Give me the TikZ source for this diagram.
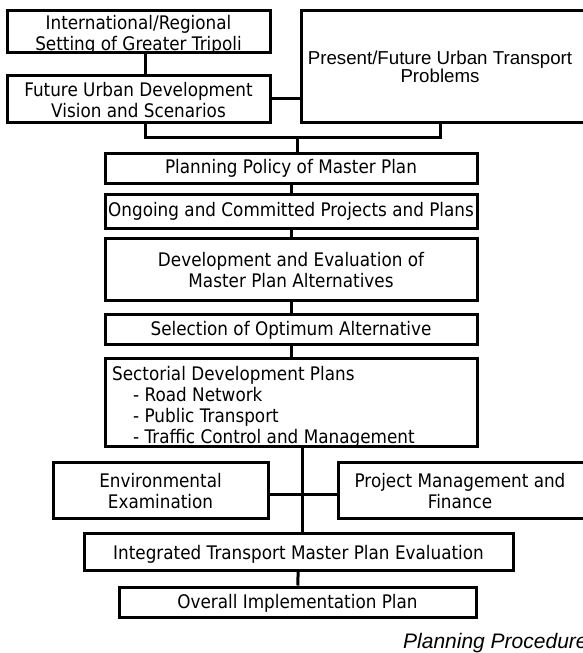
\documentclass[tikz,border=0pt]{standalone}
\usepackage{fontspec}
\usepackage{tikz}
\newfontfamily\tahoma[FakeStretch=0.9]{DejaVu Sans}
\newfontfamily\arial{Liberation Sans}
\tikzset{
  caja/.style={draw, line width=3pt, inner sep=0pt},
  texto/.style={align=center, inner sep=0pt, font=\tahoma\fontsize{18.7}{21}\selectfont},
  linea/.style={line width=3pt}
}

\begin{document}
\begin{tikzpicture}[x=1pt, y=-1pt]
        \useasboundingbox (0,0) rectangle (582,653);

        % Cajas superiores
        \node[caja, minimum width=263pt, minimum height=42pt] (setting) at (138.5,31) {};
        \node[texto] (setting-t) at (138.5,34.5) {International/Regional\\Setting of Greater Tripoli};
        \node[caja, minimum width=263pt, minimum height=47pt] (vision) at (138.5,98.5) {};
        \node[texto] (vision-t) at (138.5,100.5) {Future Urban Development\\Vision and Scenarios};
        \node[caja, minimum width=289pt, minimum height=112pt] (problems) at (445.5,66) {};
        \node[texto, font=\arial\fontsize{18.7}{18}\selectfont] (problems-t) at (440,67) {Present/Future Urban Transport\\Problems};

        % Cajas centrales
        \node[caja, minimum width=372pt, minimum height=30pt] (policy) at (291,168) {};
        \node[texto] (policy-t) at (291,168) {Planning Policy of Master Plan};
        \node[caja, minimum width=372pt, minimum height=34pt] (ongoing) at (291,211) {};
        \node[texto] (ongoing-t) at (291,211) {Ongoing and Committed Projects and Plans};
        \node[caja, minimum width=372pt, minimum height=62pt] (alternatives) at (291,269) {};
        \node[texto] (alternatives-t) at (291,270) {Development and Evaluation of\\Master Plan Alternatives};
        \node[caja, minimum width=372pt, minimum height=30pt] (optimum) at (291,329) {};
        \node[texto] (optimum-t) at (291,330) {Selection of Optimum Alternative};
        \node[caja, minimum width=372pt, minimum height=88pt] (sectorial) at (291,402) {};
        \node[texto, align=left, anchor=west] (sectorial-t) at (112,407) {Sectorial Development Plans\\
          \hspace{21pt}- Road Network\\\hspace{21pt}- Public Transport\\\hspace{21pt}- Traffic Control and Management};

        % Cajas laterales
        \node[caja, minimum width=215pt, minimum height=56pt] (environment) at (160.5,490) {};
        \node[texto] (environment-t) at (160.5,491) {Environmental\\Examination};
        \node[caja, minimum width=262pt, minimum height=56pt] (finance) at (469,490) {};
        \node[texto] (finance-t) at (460,491) {Project Management and\\Finance};

        % Cajas inferiores
        \node[caja, minimum width=429pt, minimum height=37pt] (evaluation) at (298.5,551.5) {};
        \node[texto] (evaluation-t) at (298.5,554) {Integrated Transport Master Plan Evaluation};
        \node[caja, minimum width=357pt, minimum height=30pt] (implementation) at (297.5,602) {};
        \node[texto] (implementation-t) at (297.5,603) {Overall Implementation Plan};

        % Titulo
        \node[texto, anchor=west, font=\arial\itshape\fontsize{21}{24}\selectfont] (title) at (403,643) {Planning Procedure};

        % Conectores
        \coordinate (top) at (297,137);
        \coordinate (mid) at (302,494);
        \draw[linea] ([xshift=6.5pt]setting.south) -- ([xshift=6.5pt]vision.north);
        \draw[linea] (vision.east) -- (vision.east -| problems.west);
        \draw[linea] ([xshift=6.5pt]vision.south) |- (top) -| ([xshift=-5.5pt]problems.south);
        \draw[linea] (top) -- (top |- policy.north);
        \draw[linea] (policy) -- (ongoing);
        \draw[linea] (ongoing) -- (alternatives);
        \draw[linea] (alternatives) -- (optimum);
        \draw[linea] (optimum) -- (sectorial);
        \draw[linea] (mid |- sectorial.south) -- (mid |- evaluation.north);
        \draw[linea] (mid -| environment.east) -- (mid -| finance.west);
        \draw[linea] (evaluation) -- (implementation);
\end{tikzpicture}
\end{document}
